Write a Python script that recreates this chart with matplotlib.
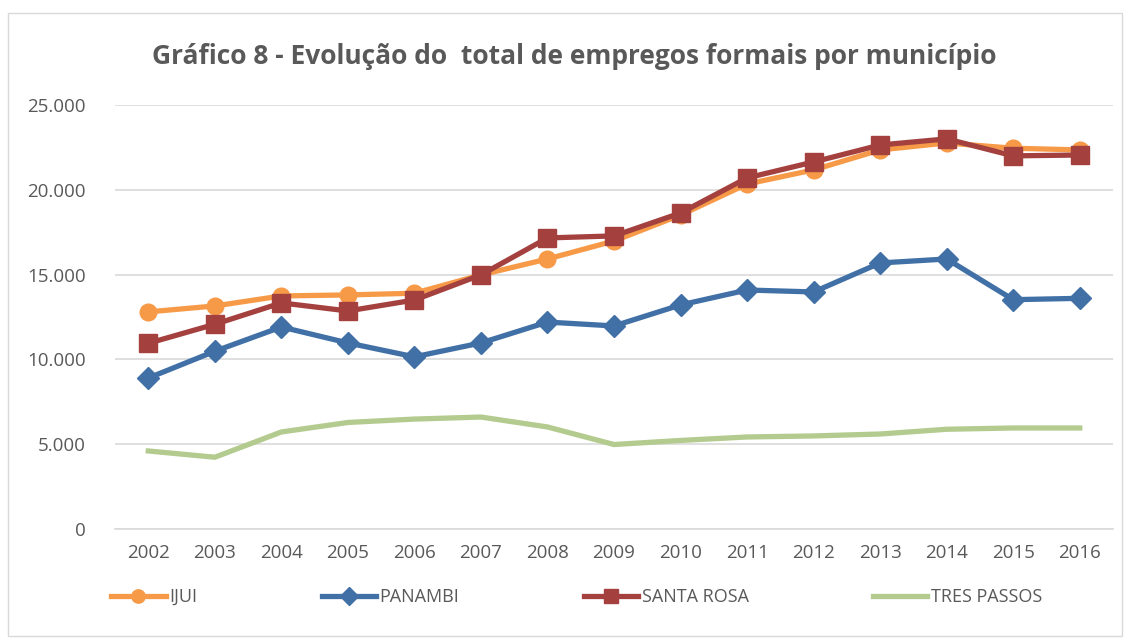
import matplotlib.pyplot as plt
from matplotlib.patches import Rectangle
from matplotlib.ticker import FuncFormatter

years = ["2002", "2003", "2004", "2005", "2006", "2007", "2008", "2009",
         "2010", "2011", "2012", "2013", "2014", "2015", "2016"]
ijui = [12800, 13150, 13740, 13800, 13900, 14980, 15920, 16980,
        18510, 20340, 21170, 22350, 22760, 22450, 22350]
panambi = [8900, 10480, 11910, 10970, 10150, 10970, 12200, 11970,
           13210, 14090, 13975, 15685, 15920, 13520, 13600]
santa_rosa = [10950, 12070, 13330, 12855, 13500, 14980, 17160, 17280,
              18630, 20700, 21640, 22640, 23000, 22000, 22050]
tres_passos = [4600, 4230, 5720, 6280, 6480, 6600, 6015, 4980,
               5220, 5425, 5485, 5600, 5880, 5955, 5955]

plt.rcParams["font.family"] = ["Open Sans", "DejaVu Sans"]
grey = "#595959"

fig = plt.figure(figsize=(11.31, 6.44), dpi=100)
ax = fig.add_axes([0.1017, 0.1786, 0.8824, 0.6584])

x = range(len(years))
ax.plot(x, ijui, color="#F79A48", lw=3.8, marker="o", ms=12, label="IJUI", zorder=3)
ax.plot(x, panambi, color="#4170A6", lw=3.8, marker="D", ms=11, label="PANAMBI", zorder=3)
ax.plot(x, santa_rosa, color="#A4413F", lw=3.8, marker="s", ms=13, label="SANTA ROSA", zorder=4)
ax.plot(x, tres_passos, color="#B3CB8F", lw=3.8, label="TRES PASSOS", zorder=3)

ax.set_xlim(-0.5, len(years) - 0.5)
ax.set_ylim(0, 25000)
ax.set_yticks(range(0, 25001, 5000))
ax.yaxis.set_major_formatter(FuncFormatter(lambda v, p: f"{int(v):,}".replace(",", ".")))
ax.set_xticks(list(x))
ax.set_xticklabels(years)
ax.grid(axis="y", color="#D9D9D9", lw=1.2)
ax.set_axisbelow(True)
for s in ["top", "right", "left"]:
    ax.spines[s].set_visible(False)
ax.spines["bottom"].set_color("#D9D9D9")
ax.spines["bottom"].set_linewidth(1.2)
ax.tick_params(axis="both", length=0, labelsize=13.5, colors=grey, pad=11)
ax.tick_params(axis="y", pad=21)

fig.text(0.508, 1 - 56 / 644, "Gráfico 8 - Evolução do  total de empregos formais por município",
         ha="center", va="center", fontsize=19, fontweight="bold", color=grey)

fig.legend(loc="center", bbox_to_anchor=(0.51, 1 - 597 / 644), ncol=4, frameon=False,
           fontsize=13, labelcolor=grey, handlelength=3, handletextpad=0.2,
           columnspacing=6.9, markerscale=0.8)

fig.patches.append(Rectangle((8 / 1131, 1 - 636 / 644), 1114 / 1131, 623 / 644,
                             transform=fig.transFigure, fill=False,
                             edgecolor="#D9D9D9", lw=1))

fig.savefig("out.png", dpi=100, facecolor="white")
